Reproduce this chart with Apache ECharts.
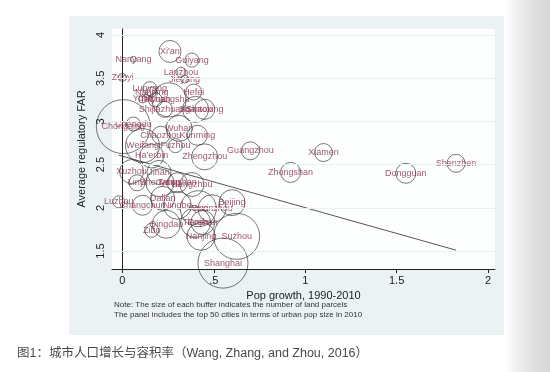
<!DOCTYPE html>
<html><head><meta charset="utf-8">
<script src="https://cdn.jsdelivr.net/npm/echarts@6/dist/echarts.min.js"></script>
<style>
html,body{margin:0;padding:0;width:550px;height:372px;overflow:hidden;
background:linear-gradient(to right,#ffffff 0px,#ffffff 505px,#f2f2f2 515px,#dedede 535px,#d8d8d8 550px);}
#c{width:550px;height:372px;}
</style></head>
<body><div id="c"></div>
<script>
const cities = ["Xi'an","Guiyang","Nanyang","Lanzhou","Jieyang","Zunyi","Luoyang","Nanning","Hefei","Yulin",
"Changsha","Taiyuan","Shijiazhuang","Shantou","Shaoxing","Chongqing","Chengdu","Wuhan","Chaozhou","Kunming",
"Weifang","Fuzhou","Ha'erbin","Zhengzhou","Guangzhou","Xiamen","Zhongshan","Dongguan","Shenzhen","Xuzhou",
"Jinan","Linyi","Shenyang","Tangshan","Hangzhou","Luzhou","Changchun","Dalian","Ningbo","Wuxi",
"Quanzhou","Beijing","Qingdao","Tianjin","Foshan","Zibo","Nanjing","Suzhou","Shanghai"];
const popGrowth = [0.26,0.38,0.06,0.32,0.34,0.00,0.15,0.16,0.39,0.11,
0.255,0.18,0.23,0.40,0.45,0.005,0.06,0.31,0.21,0.41,
0.11,0.29,0.16,0.45,0.70,1.10,0.92,1.55,1.825,0.05,
0.20,0.08,0.205,0.30,0.38,-0.02,0.11,0.22,0.30,0.415,
0.49,0.60,0.24,0.40,0.44,0.16,0.43,0.625,0.55];
const avgFAR = [3.81,3.71,3.72,3.57,3.49,3.51,3.38,3.34,3.34,3.26,
3.25,3.25,3.14,3.14,3.14,2.94,2.97,2.92,2.84,2.84,
2.72,2.72,2.60,2.59,2.66,2.64,2.41,2.40,2.515,2.42,
2.41,2.29,2.29,2.29,2.27,2.07,2.03,2.11,2.03,1.99,
1.99,2.06,1.81,1.83,1.83,1.74,1.67,1.67,1.36];
const parcels = [121,49,9,25,16,16,49,25,64,16,
289,49,64,169,100,729,49,169,81,100,
289,49,144,169,81,81,100,100,81,144,
144,64,196,100,144,36,100,144,196,324,
196,169,196,225,144,49,196,529,625];
const fitX = [-0.02, 1.825];
const fitY = [2.61, 1.51];
const xTicks = [0, 0.5, 1, 1.5, 2];
const xTickLabels = ["0", ".5", "1", "1.5", "2"];
const yTicks = [1.5, 2, 2.5, 3, 3.5, 4];
const yTickLabels = ["1.5", "2", "2.5", "3", "3.5", "4"];
const xTitle = "Pop growth, 1990-2010";
const yTitle = "Average regulatory FAR";
const notes = ["Note: The size of each buffer indicates the number of land parcels",
"The panel includes the top 50 cities in terms of urban pop size in 2010"];
const caption = "图1：城市人口增长与容积率（Wang, Zhang, and Zhou, 2016）";

const chart = echarts.init(document.getElementById('c'), null, {renderer:'canvas'});
const pts = cities.map((n,i)=>[popGrowth[i], avgFAR[i], parcels[i], n]);
const fitData = fitX.map((x,i)=>[x, fitY[i]]);
const FONT = "'Liberation Sans', Arial, sans-serif";
const xLab = {}; xTicks.forEach((v,i)=>xLab[v]=xTickLabels[i]);
const yLab = {}; yTicks.forEach((v,i)=>yLab[v]=yTickLabels[i]);

chart.setOption({
  animation:false,
  backgroundColor:'transparent',
  graphic:[
    {type:'rect', z:-10, silent:true, shape:{x:69,y:16,width:435,height:319}, style:{fill:'#eaf2f4'}},
    {type:'text', left:114, top:301, silent:true, style:{text:notes[0], font:"8px "+FONT, fill:'#333'}},
    {type:'text', left:114, top:311, silent:true, style:{text:notes[1], font:"8px "+FONT, fill:'#333'}},
    {type:'text', left:17, top:347, silent:true, style:{text:caption, font:"12.5px 'Liberation Sans', 'Noto Sans CJK SC', sans-serif", fill:'#4a4a4a'}}
  ],
  grid:{left:112, right:55, top:29, bottom:103, show:true, backgroundColor:'#fdfefe', borderWidth:0},
  xAxis:{type:'value', min:-0.057, max:2.038,
    name:xTitle, nameLocation:'middle', nameGap:19,
    nameTextStyle:{fontSize:11, color:'#222', fontFamily:FONT},
    axisLine:{show:true, lineStyle:{color:'#222', width:1}},
    axisTick:{show:true, length:4, customValues:xTicks, lineStyle:{color:'#222'}},
    axisLabel:{customValues:xTicks, formatter:v=>xLab[v] ?? '', fontSize:11, color:'#222', fontFamily:FONT, margin:6},
    splitLine:{show:false}},
  yAxis:{type:'value', min:1.292, max:4.07,
    name:yTitle, nameLocation:'middle', nameGap:20, nameRotate:90,
    nameTextStyle:{fontSize:11, color:'#222', fontFamily:FONT},
    axisLine:{show:true, lineStyle:{color:'#222', width:1}},
    axisTick:{show:true, length:4, customValues:yTicks, lineStyle:{color:'#222'}},
    axisLabel:{customValues:yTicks, formatter:v=>yLab[v] ?? '', rotate:90, fontSize:11, color:'#222', fontFamily:FONT, margin:6},
    splitLine:{show:false}},
  series:[
    {type:'line', data:fitData, symbol:'none', silent:true, z:1,
      lineStyle:{color:'#555', width:1},
      markLine:{silent:true, symbol:'none', label:{show:false},
        lineStyle:{color:'#e9f0f3', width:1, type:'solid'},
        data:yTicks.map(v=>({yAxis:v}))}},
    {type:'scatter', data:pts, z:2,
      symbol:'circle', symbolSize:v=>2*Math.sqrt(v[2]),
      itemStyle:{color:'rgba(0,0,0,0)', borderColor:'#2a2a2a', borderWidth:0.8},
      label:{show:true, position:'inside', formatter:p=>p.data[3],
        fontSize:9, color:'#86304a', fontFamily:FONT}}
  ]
});
</script>
</body></html>
